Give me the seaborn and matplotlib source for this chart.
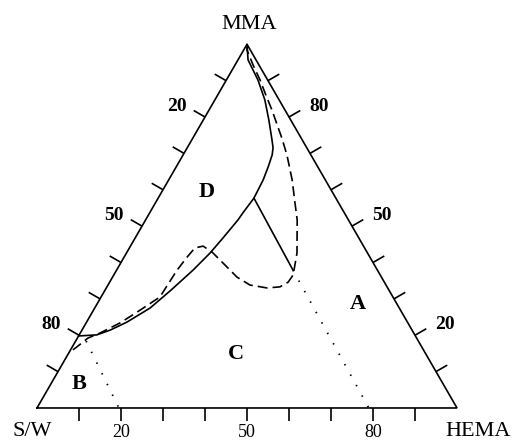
import numpy as np
import pandas as pd
import matplotlib
matplotlib.use("Agg")
import matplotlib.pyplot as plt
import seaborn as sns
from matplotlib.collections import LineCollection

sns.set_theme(style="white")
plt.rcParams["font.family"] = ["Liberation Serif", "DejaVu Serif"]

# Components (corner order: S/W, HEMA, MMA); compositions given as (HEMA %, MMA %)
corner_labels = ["S/W", "HEMA", "MMA"]
tick_values = [20, 50, 80]

# Phase region labels
region_names = ["D", "A", "C", "B"]
region_hema = [10.8, 62.1, 40.0, 6.7]
region_mma = [59.4, 28.6, 14.8, 6.6]

# Solid phase boundary enclosing region D
solid_hema = [0, 2.4, 7.5, 11.9, 15.6, 19.1, 20.4, 21.2, 21.9, 22.5, 22.8, 22.2, 22.0,
              20.9, 19.9, 18.2, 15.7, 13.2, 9.6, 6.7, 4.2, 0]
solid_mma = [100, 95.7, 90.2, 84.7, 79.2, 73.7, 71.6, 69.6, 66.3, 62.7, 57.7, 53.6, 51.7,
             46.7, 42.6, 37.9, 32.4, 27.5, 23.6, 21.4, 20.1, 19.8]

# Tie line from the D boundary
tie_hema = [22.8, 42.0]
tie_mma = [57.7, 37.9]

# Dashed boundary
dash_hema = [0, 0.8, 4.3, 8.0, 11.0, 15.0, 18.7, 21.2, 24.7, 29.4, 33.1, 36.1, 40.6,
             42.7, 42.5, 41.2, 38.3, 33.8, 29.6, 24.3, 20.2, 17.3, 15.6, 15.0, 14.4,
             14.0, 11.1, 8.1, 4.7, 2.5, 1.1, 0]
dash_mma = [100, 98.4, 94.3, 90.2, 86.6, 81.9, 77.3, 74.2, 69.6, 62.7, 56.6, 51.7, 42.6,
            36.6, 34.6, 33.3, 33.0, 33.8, 36.0, 39.9, 42.9, 44.5, 44.0, 41.5, 37.9,
            30.5, 26.9, 23.4, 20.6, 19.2, 16.8, 15.1]

# Dotted boundaries A/C and B/C
dotA_hema = [42.0, 79.0]
dotA_mma = [37.9, 0.0]
dotB_hema = [2.5, 19.5]
dotB_mma = [18.4, 0.0]

H = np.sqrt(3) / 2


def to_xy(hema, mma):
    h = np.asarray(hema, float) / 100.0
    m = np.asarray(mma, float) / 100.0
    return h + m / 2.0, m * H


def frame(hema, mma):
    x, y = to_xy(hema, mma)
    return pd.DataFrame({"x": x, "y": y, "i": np.arange(len(x))})


fig = plt.figure(figsize=(5.15, 4.42), dpi=100)
ax = fig.add_axes([0, 0, 1, 1])
ax.set_xlim(-0.0881, 1.1381)
ax.set_ylim(-0.081, 0.9714)
ax.axis("off")

lw = 1.2
# triangle outline
sw, hm, mm = np.array([0.0, 0.0]), np.array([1.0, 0.0]), np.array([0.5, H])
tri = np.array([sw, hm, mm, sw])
ax.plot(tri[:, 0], tri[:, 1], color="black", lw=lw, solid_joinstyle="miter")

# ticks, perpendicular and outward on each side
tl = 0.031
segs = []
sides = [
    (mm, sw, np.array([-H, 0.5])),   # S/W scale, 0 at MMA
    (mm, hm, np.array([H, 0.5])),    # MMA scale, 100 at MMA
    (sw, hm, np.array([0.0, -1.0])),  # HEMA scale, 0 at S/W
]
for a, b, n in sides:
    for k in range(1, 10):
        p = a + (b - a) * k / 10
        segs.append([p, p + n * tl])
ax.add_collection(LineCollection(segs, colors="black", linewidths=lw))

fs_num = 14
for v in tick_values:
    # left side: S/W percentage
    p = mm + (sw - mm) * v / 100
    ax.text(p[0] - 0.066, p[1] + 0.026, str(v), ha="center", va="center",
            fontsize=fs_num, fontweight="bold", color="black")
    # right side: MMA percentage
    p = hm + (mm - hm) * v / 100
    ax.text(p[0] + 0.071, p[1] + 0.025, str(v), ha="center", va="center",
            fontsize=fs_num, fontweight="bold", color="black")
    # bottom: HEMA percentage
    p = sw + (hm - sw) * v / 100
    ax.text(p[0], p[1] - 0.068, str(v), ha="center", va="baseline",
            fontsize=13, color="black")

fs_corner = 16
ax.text(mm[0] + 0.005, mm[1] + 0.048, corner_labels[2], ha="center", va="center",
        fontsize=fs_corner, color="black")
ax.text(sw[0] - 0.012, sw[1] - 0.056, corner_labels[0], ha="center", va="center",
        fontsize=fs_corner, color="black")
ax.text(hm[0] + 0.05, hm[1] - 0.056, corner_labels[1], ha="center", va="center",
        fontsize=fs_corner, color="black")

# phase boundaries
common = dict(x="x", y="y", sort=False, estimator=None, color="black", ax=ax,
              legend=False)
sns.lineplot(data=frame(solid_hema, solid_mma), lw=lw, **common)
sns.lineplot(data=frame(tie_hema, tie_mma), lw=lw, **common)
sns.lineplot(data=frame(dash_hema, dash_mma), lw=lw, linestyle=(0, (6, 3)), **common)
sns.lineplot(data=frame(dotA_hema, dotA_mma), lw=1.3, linestyle=(0, (0.8, 5.8)),
             **common)
sns.lineplot(data=frame(dotB_hema, dotB_mma), lw=1.3, linestyle=(0, (0.8, 5.8)),
             **common)

rx, ry = to_xy(region_hema, region_mma)
for name, x, y in zip(region_names, rx, ry):
    ax.text(x, y, name, ha="center", va="center", fontsize=16,
            fontweight="bold", color="black")

ax.set_xlim(-0.0881, 1.1381)
ax.set_ylim(-0.081, 0.9714)
fig.savefig("out.png", dpi=100)
